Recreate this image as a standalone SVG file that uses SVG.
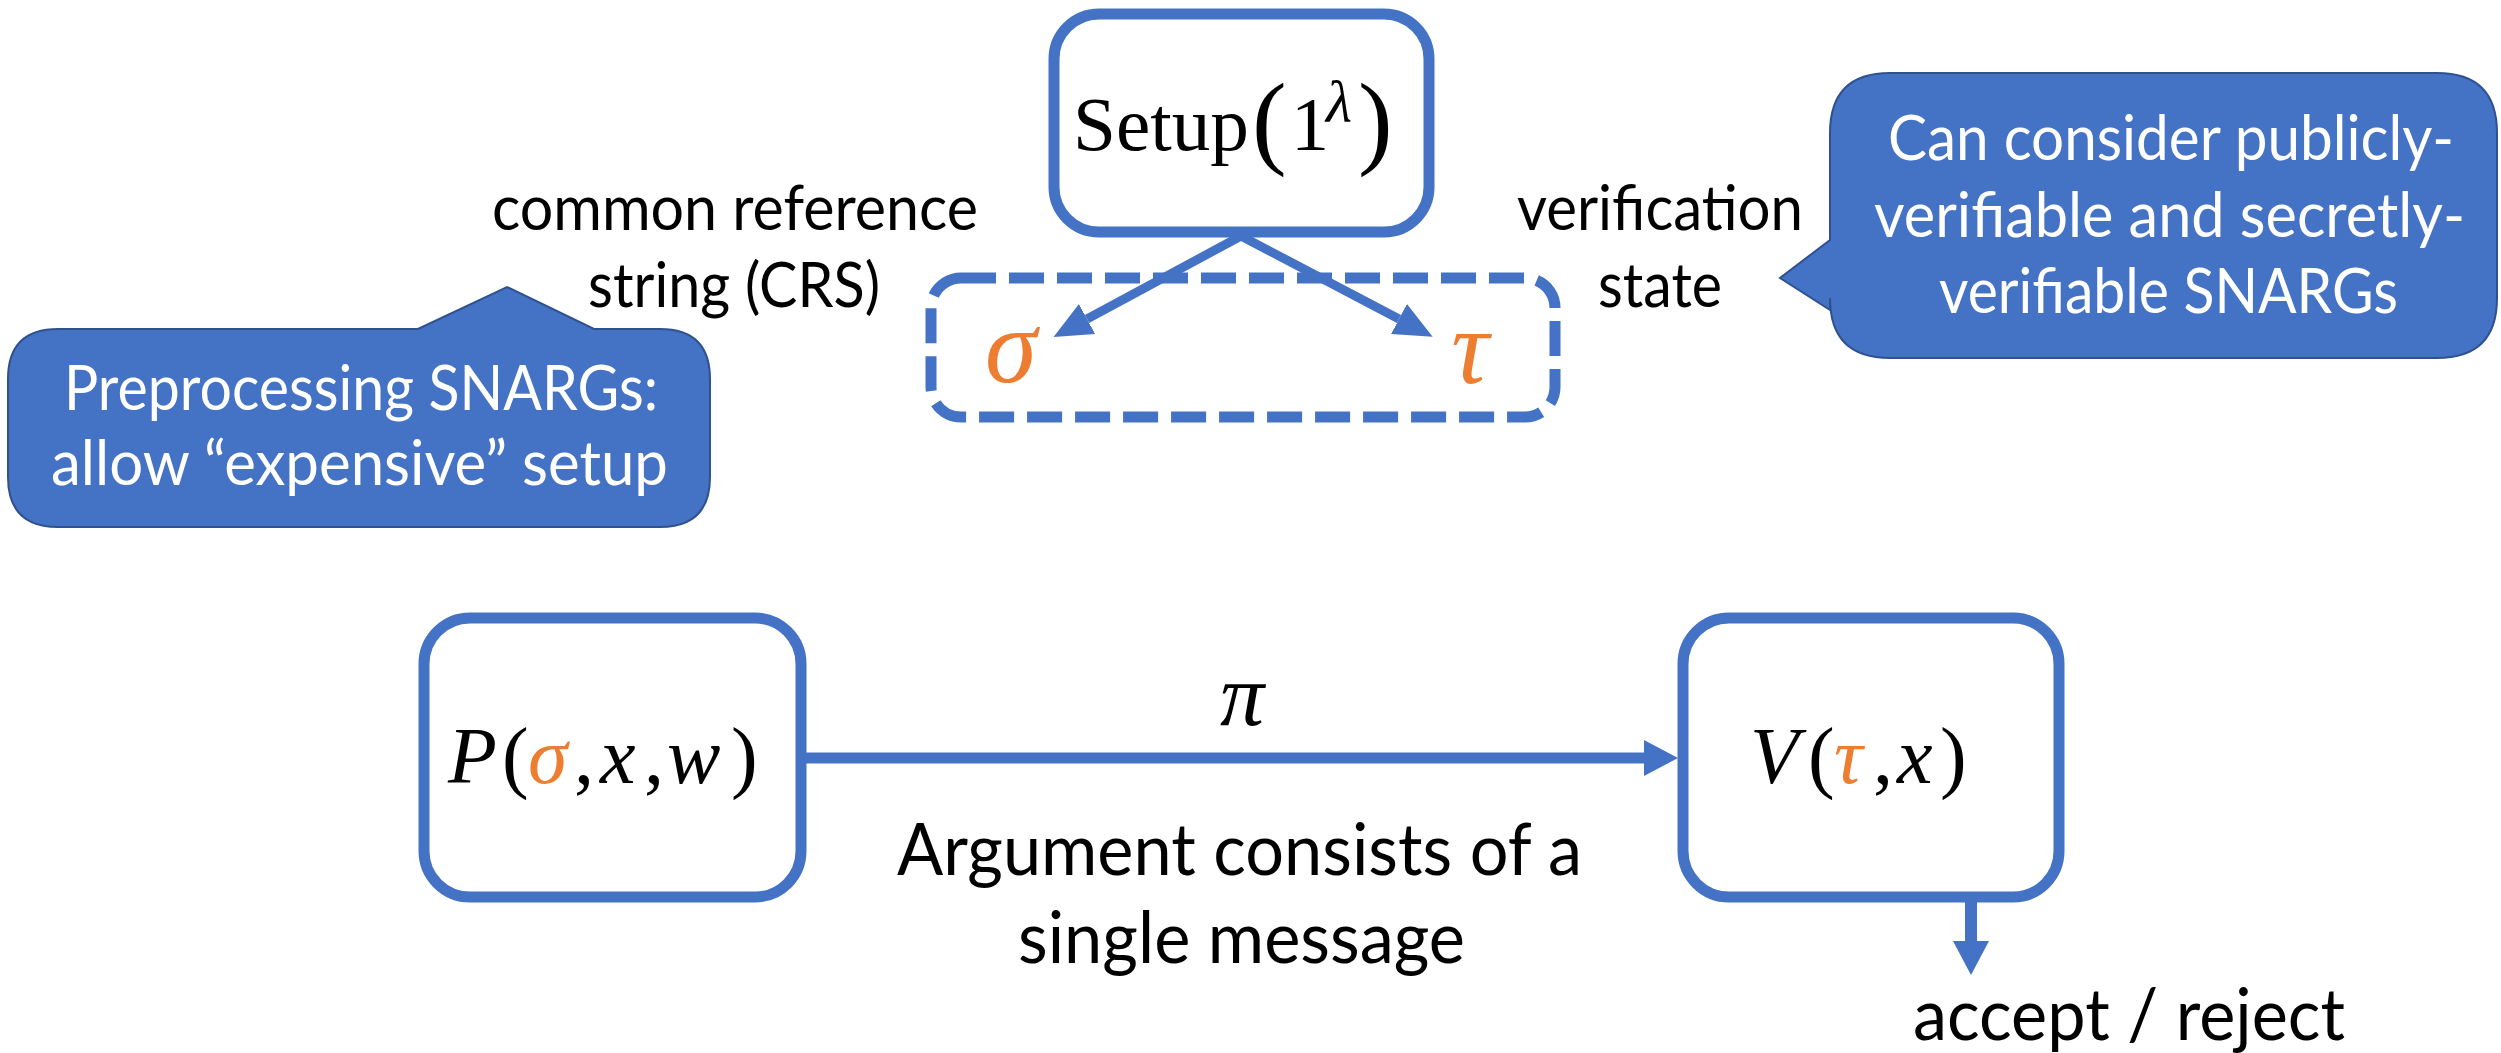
<svg xmlns="http://www.w3.org/2000/svg" width="2501" height="1053" viewBox="0 0 2501 1053">
<defs>
<style>
.box{fill:#fff;stroke:#4472C4;stroke-width:11}
.dash{fill:none;stroke:#4472C4;stroke-width:11;stroke-dasharray:35 13}
.conn{fill:none;stroke:#4472C4}
.call{fill:#4472C4;stroke:#2F528F;stroke-width:2}
.t{font-family:Lato,"Open Sans",sans-serif;fill:#000}
.w{font-family:Lato,"Open Sans",sans-serif;fill:#fff}
.m{font-family:"Liberation Serif","DejaVu Serif",serif;fill:#000}
.i{font-style:italic}
.o{fill:#ED7D31}
</style>
<marker id="headA" viewBox="0 0 38 34" refX="0" refY="17" markerWidth="38" markerHeight="34" markerUnits="userSpaceOnUse" orient="auto">
<path d="M0,0 L38,17 L0,34 z" fill="#4472C4"/>
</marker>
<marker id="headB" viewBox="0 0 34 36" refX="0" refY="18" markerWidth="34" markerHeight="36" markerUnits="userSpaceOnUse" orient="auto">
<path d="M0,0 L34,18 L0,36 z" fill="#4472C4"/>
</marker>
</defs>
<rect width="2501" height="1053" fill="#fff"/>

<g id="callout-preprocessing">
<path class="call" d="M58,329 L418,329 L507,287 L594,329 L660,329 Q710,329 710,379 L710,477 Q710,527 660,527 L58,527 Q8,527 8,477 L8,379 Q8,329 58,329 Z"/>
<text class="w" font-size="62" x="64" y="410" textLength="594" lengthAdjust="spacingAndGlyphs">Preprocessing SNARGs:</text>
<text class="w" font-size="62" x="51" y="485" textLength="617" lengthAdjust="spacingAndGlyphs">allow “expensive” setup</text>
</g>

<g id="callout-verifiable">
<path class="call" d="M1890,73 L2437,73 Q2497,73 2497,133 L2497,298 Q2497,358 2437,358 L1890,358 Q1830,358 1830,298 L1830,310 L1780,278 L1830,240 L1830,133 Q1830,73 1890,73 Z"/>
<text class="w" font-size="62" x="1888" y="160" textLength="566" lengthAdjust="spacingAndGlyphs">Can consider publicly-</text>
<text class="w" font-size="62" x="1874" y="237" textLength="591" lengthAdjust="spacingAndGlyphs">verifiable and secretly-</text>
<text class="w" font-size="62" x="1939" y="313" textLength="459" lengthAdjust="spacingAndGlyphs">verifiable SNARGs</text>
</g>

<g id="label-crs">
<text class="t" font-size="62" x="492" y="230" textLength="486" lengthAdjust="spacingAndGlyphs">common reference</text>
<text class="t" font-size="62" x="588" y="307" textLength="292" lengthAdjust="spacingAndGlyphs">string (CRS)</text>
</g>

<g id="label-state">
<text class="t" font-size="62" x="1517" y="230" textLength="286" lengthAdjust="spacingAndGlyphs">verification</text>
<text class="t" font-size="62" x="1598" y="307" textLength="124" lengthAdjust="spacingAndGlyphs">state</text>
</g>

<g id="setup">
<rect class="box" x="1054" y="14" width="375" height="218" rx="45"/>
<text class="m" font-size="76" x="1073" y="150" textLength="176" lengthAdjust="spacingAndGlyphs">Setup</text>
<text class="m" font-size="104" x="1252" y="155">(</text>
<text class="m" font-size="76" x="1291" y="150">1</text>
<text class="m i" font-size="60" x="1326" y="122">λ</text>
<text class="m" font-size="104" x="1358" y="155">)</text>
</g>

<g id="crs-group">
<rect class="dash" x="931" y="278" width="624" height="139" rx="30"/>
<text class="m i o" font-size="105" x="1011" y="382" text-anchor="middle">σ</text>
<text class="m i o" font-size="105" x="1470" y="383" text-anchor="middle">τ</text>
</g>

<g id="prover">
<rect class="box" x="424" y="618" width="377" height="279" rx="46"/>
<text class="m" font-size="80" y="783"><tspan class="i" x="448">P</tspan><tspan x="502">(</tspan><tspan class="i o" x="528">σ</tspan><tspan x="574">,</tspan><tspan class="i" x="600">x</tspan><tspan x="644">,</tspan><tspan class="i" x="667">w</tspan><tspan x="731">)</tspan></text>
</g>

<g id="verifier">
<rect class="box" x="1683" y="618" width="376" height="279" rx="46"/>
<text class="m" font-size="80" y="783"><tspan class="i" x="1750">V</tspan><tspan x="1808">(</tspan><tspan class="i o" x="1834">τ</tspan><tspan x="1873">,</tspan><tspan class="i" x="1897">x</tspan><tspan x="1940">)</tspan></text>
</g>

<g id="connectors">
<line class="conn" stroke-width="9" x1="1241" y1="236" x2="1087" y2="319" marker-end="url(#headA)"/>
<line class="conn" stroke-width="9" x1="1241" y1="236" x2="1399" y2="319" marker-end="url(#headA)"/>
<line class="conn" stroke-width="11" x1="806" y1="758" x2="1644" y2="758" marker-end="url(#headB)"/>
<line class="conn" stroke-width="12" x1="1971" y1="902" x2="1971" y2="941" marker-end="url(#headB)"/>
</g>

<g id="label-pi">
<text class="m i" font-size="88" x="1242" y="725" text-anchor="middle">π</text>
</g>

<g id="label-argument">
<text class="t" font-size="72" x="897" y="875" textLength="685" lengthAdjust="spacingAndGlyphs">Argument consists of a</text>
<text class="t" font-size="72" x="1018" y="963" textLength="447" lengthAdjust="spacingAndGlyphs">single message</text>
</g>

<g id="label-accept">
<text class="t" font-size="72" x="1913" y="1040" textLength="432" lengthAdjust="spacingAndGlyphs">accept / reject</text>
</g>
</svg>
